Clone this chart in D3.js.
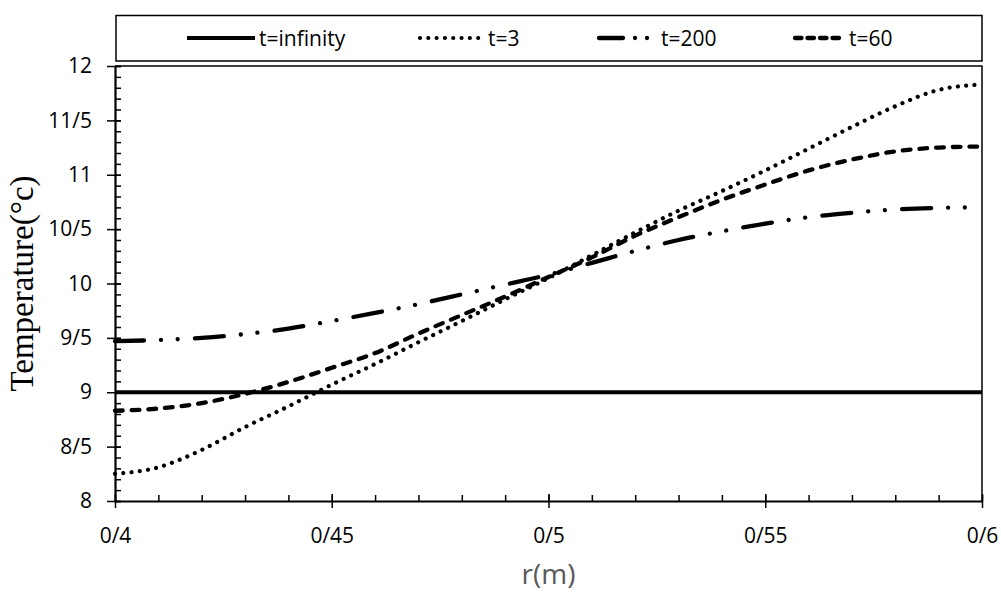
<!DOCTYPE html>
<html>
<head>
<meta charset="utf-8">
<script src="https://cdn.jsdelivr.net/npm/d3@7"></script>
<style>
  body { margin: 0; background: #fff; }
  svg { display: block; }
  .tick text { font-family: "Open Sans", sans-serif; font-size: 21px; fill: #000; }
</style>
</head>
<body>
<svg id="chart" width="1001" height="594"></svg>
<script>
// r values (m)
var radius = [0.40, 0.41, 0.42, 0.43, 0.44, 0.45, 0.46, 0.47, 0.48, 0.49, 0.50,
              0.51, 0.52, 0.53, 0.54, 0.55, 0.56, 0.57, 0.58, 0.59, 0.60];

// temperatures
var tInfinity = [9, 9, 9, 9, 9, 9, 9, 9, 9, 9, 9, 9, 9, 9, 9, 9, 9, 9, 9, 9, 9];
var t3   = [8.25, 8.31, 8.47, 8.68, 8.87, 9.07, 9.26, 9.46, 9.655, 9.855, 10.05,
            10.26, 10.47, 10.67, 10.85, 11.04, 11.24, 11.44, 11.63, 11.78, 11.83];
var t200 = [9.47, 9.48, 9.50, 9.535, 9.585, 9.655, 9.73, 9.81, 9.90, 9.99, 10.08,
            10.19, 10.30, 10.40, 10.48, 10.55, 10.61, 10.65, 10.68, 10.695, 10.70];
var t60  = [8.83, 8.85, 8.90, 8.985, 9.095, 9.225, 9.36, 9.54, 9.71, 9.88, 10.06,
            10.24, 10.44, 10.61, 10.77, 10.91, 11.04, 11.14, 11.215, 11.25, 11.26];

var seriesNames = ["t=infinity", "t=3", "t=200", "t=60"];

var xTicks = [0.40, 0.45, 0.50, 0.55, 0.60];
var xTickLabels = ["0/4", "0/45", "0/5", "0/55", "0/6"];
var yTicks = [8, 8.5, 9, 9.5, 10, 10.5, 11, 11.5, 12];
var yTickLabels = ["8", "8/5", "9", "9/5", "10", "10/5", "11", "11/5", "12"];

var svg = d3.select("#chart"),
    width = +svg.attr("width"),
    height = +svg.attr("height");

var plot = { left: 115, right: 982, top: 66, bottom: 501 };

var x = d3.scaleLinear().domain([0.4, 0.6]).range([plot.left, plot.right]);
var y = d3.scaleLinear().domain([8, 12]).range([plot.bottom, plot.top]);

// line looks for each series
var styles = [
    { dash: null, width: 4, legendDash: null },
    { dash: "0.01 8.3", width: 4.2, legendDash: "0.01 8.3" },
    { dash: "29 17 0.01 16.7 0.01 17.3", width: 4.3, legendDash: "24 12 0.01 12 0.01 40" },
    { dash: "7.7 9", width: 4.3, legendDash: "6.5 6 6.5 6 6.5 6 6.5 6 0.01 30" }
];
var series = [tInfinity, t3, t200, t60];

// frame (top / right)
svg.append("path")
    .attr("d", "M" + plot.left + "," + plot.top + "H" + plot.right + "V" + plot.bottom)
    .attr("fill", "none")
    .attr("stroke", "#000")
    .attr("stroke-width", 1.5);

// minor ticks, inside the plot
var xMinor = d3.range(40, 61).map(function(v) { return v / 100; });
var yMinor = d3.range(80, 121).map(function(v) { return v / 10; });

svg.append("g")
    .attr("transform", "translate(0," + plot.bottom + ")")
    .call(d3.axisTop(x).tickValues(xMinor).tickSize(6).tickFormat(""))
    .call(function(g) { g.select(".domain").remove(); })
    .selectAll("line").attr("stroke-width", 1.5);

svg.append("g")
    .attr("transform", "translate(" + plot.left + ",0)")
    .call(d3.axisRight(y).tickValues(yMinor).tickSize(6).tickFormat(""))
    .call(function(g) { g.select(".domain").remove(); })
    .selectAll("line").attr("stroke-width", 1.5);

// main axes
var xAxis = svg.append("g")
    .attr("transform", "translate(0," + plot.bottom + ")")
    .call(d3.axisBottom(x).tickValues(xTicks).tickSizeInner(7).tickSizeOuter(0)
        .tickFormat(function(d, i) { return xTickLabels[i]; }));
xAxis.select(".domain").attr("stroke-width", 2.2);
xAxis.selectAll(".tick line").attr("stroke-width", 1.5).attr("y1", -7);
xAxis.selectAll(".tick text").attr("y", 27).attr("dy", "0.71em");

var yAxis = svg.append("g")
    .attr("transform", "translate(" + plot.left + ",0)")
    .call(d3.axisLeft(y).tickValues(yTicks).tickSizeInner(8).tickSizeOuter(0).tickPadding(15)
        .tickFormat(function(d, i) { return yTickLabels[i]; }));
yAxis.select(".domain").attr("stroke-width", 2.2);
yAxis.selectAll(".tick line").attr("stroke-width", 1.5).attr("x2", -8).attr("x1", 6);

// curves
var line = d3.line()
    .x(function(d) { return x(d.r); })
    .y(function(d) { return y(d.t); })
    .curve(d3.curveMonotoneX);

svg.append("g")
    .selectAll("path")
    .data(series)
    .enter().append("path")
    .attr("d", function(s) {
        return line(s.map(function(t, i) { return { r: radius[i], t: t }; }));
    })
    .attr("fill", "none")
    .attr("stroke", "#000")
    .attr("stroke-width", function(s, i) { return styles[i].width; })
    .attr("stroke-linecap", function(s, i) { return i == 0 ? "butt" : "round"; })
    .attr("stroke-dasharray", function(s, i) { return styles[i].dash; });

// axis titles
svg.append("text")
    .attr("x", x(0.5))
    .attr("y", 584)
    .attr("text-anchor", "middle")
    .style("font-family", "'Open Sans', sans-serif")
    .style("font-size", "28px")
    .style("fill", "#595959")
    .text("r(m)");

svg.append("text")
    .attr("transform", "translate(33," + ((plot.top + plot.bottom) / 2) + ") rotate(-90)")
    .attr("text-anchor", "middle")
    .style("font-family", "'Liberation Serif', 'Times New Roman', serif")
    .style("font-size", "33px")
    .style("fill", "#000")
    .text("Temperature(\u00B0c)");

// legend
var legend = svg.append("g").attr("class", "legend");
legend.append("rect")
    .attr("x", 116)
    .attr("y", 15.5)
    .attr("width", plot.right - 116)
    .attr("height", 45.5)
    .attr("fill", "#fff")
    .attr("stroke", "#000")
    .attr("stroke-width", 1.5);

var legendX = [187, 420, 599, 795];
var legendLen = [68, 64, 58, 50];

legend.selectAll("g").data(seriesNames)
    .enter()
    .append("g")
    .each(function(d, i) {
        var g = d3.select(this);
        g.append("line")
            .attr("x1", legendX[i])
            .attr("x2", legendX[i] + legendLen[i])
            .attr("y1", 38)
            .attr("y2", 38)
            .attr("stroke", "#000")
            .attr("stroke-width", styles[i].width)
            .attr("stroke-linecap", i == 0 ? "butt" : "round")
            .attr("stroke-dasharray", styles[i].legendDash);
        g.append("text")
            .attr("x", legendX[i] + legendLen[i] + 4)
            .attr("y", 45.5)
            .style("font-family", "'Open Sans', sans-serif")
            .style("font-size", "21px")
            .text(d);
    });
</script>
</body>
</html>
